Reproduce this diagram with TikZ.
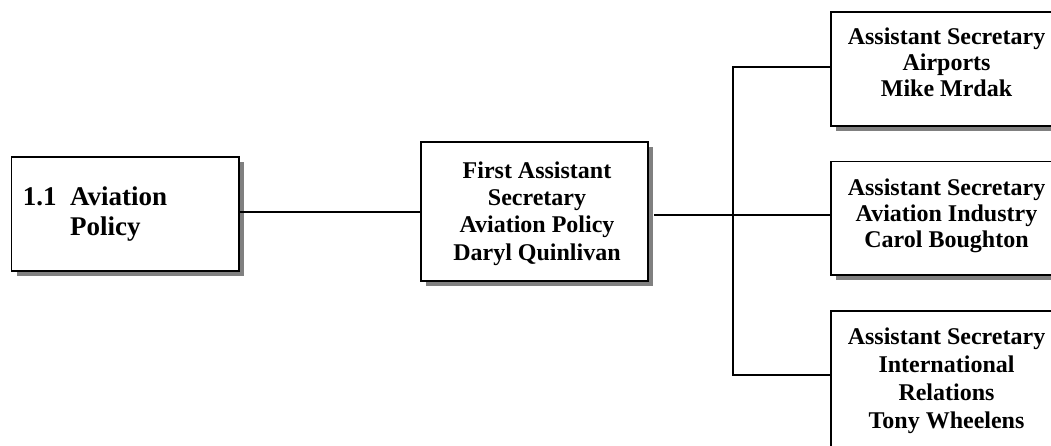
\documentclass[tikz,border=0pt]{standalone}
\usepackage{fontspec}
\setmainfont{Liberation Serif}
\usetikzlibrary{shadows}
\begin{document}
\begin{tikzpicture}[x=1pt,y=-1pt,
  orgbox/.style={draw=black, line width=1.8pt, fill=white, rectangle, inner sep=0pt,
    drop shadow={shadow xshift=5pt, shadow yshift=-5pt, fill=black!50, opacity=1}},
  boxtext/.style={align=center, inner sep=0pt,
    font=\fontsize{24}{26.5}\selectfont\bfseries},
  link/.style={draw=black, line width=1.8pt}
]
\useasboundingbox (0,0) rectangle (1051,446);
\clip (0,0) rectangle (1051,446);

% boxes
\node[orgbox, minimum width=227.8pt, minimum height=114.3pt] (div) at (125.4,213.8) {};
\node[orgbox, minimum width=227.6pt, minimum height=138.7pt] (fas) at (534.5,211.7) {};
\node[orgbox, minimum width=231.3pt, minimum height=114.3pt] (asa) at (946.4,68.9) {};
\node[orgbox, minimum width=231.3pt, minimum height=113.5pt] (asb) at (946.4,218.3) {};
\node[orgbox, minimum width=231.3pt, minimum height=150pt] (asc) at (946.4,385.7) {};

% texts
\node[anchor=base west, inner sep=0pt, font=\fontsize{27}{30}\selectfont\bfseries] (divtext) at (22.7,206)
  {\begin{tabular}[t]{@{}p{47.3pt}@{}l@{}}1.1 & Aviation\\ & Policy\end{tabular}};
\node[boxtext, font=\fontsize{24}{27.3}\selectfont\bfseries] (fastext) at (537,213.5)
  {First Assistant\\Secretary\\Aviation Policy\\Daryl Quinlivan};
\node[boxtext, font=\fontsize{24}{26}\selectfont\bfseries] (asatext) at (946.5,62)
  {Assistant Secretary\\Airports\\Mike Mrdak};
\node[boxtext, font=\fontsize{24}{26}\selectfont\bfseries] (asbtext) at (946.5,216)
  {Assistant Secretary\\Aviation Industry\\Carol Boughton};
\node[boxtext, font=\fontsize{24}{28}\selectfont\bfseries] (asctext) at (946.5,380.5)
  {Assistant Secretary\\International\\Relations\\Tony Wheelens};

% connectors
\coordinate (j) at (732.7,215);
\coordinate (ta) at (732.7,67.3);
\coordinate (tc) at (732.7,375);
\draw[link] (div.east |- fas.west) -- (fas.west);
\draw[link] ([xshift=5pt]fas.east |- j) -- (j) -- (asb.west |- j);
\draw[link] (asa.west |- ta) -- (ta) -- (tc) -- (asc.west |- tc);
\end{tikzpicture}
\end{document}
